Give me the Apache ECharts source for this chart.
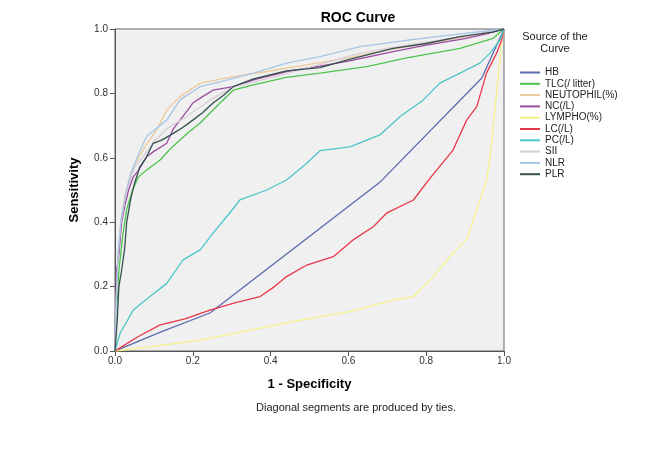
<!DOCTYPE html>
<html><head><meta charset="utf-8">
<script src="https://cdn.jsdelivr.net/npm/echarts@6/dist/echarts.min.js"></script>
<style>html,body{margin:0;padding:0;background:#fff}#c{width:667px;height:461px}</style>
</head><body><div id="c"></div>
<script>
const xTicks = [0, 0.2, 0.4, 0.6, 0.8, 1.0];
const yTicks = [0, 0.2, 0.4, 0.6, 0.8, 1.0];
const seriesNames = ['HB','TLC(/ litter)','NEUTOPHIL(%)','NC(/L)','LYMPHO(%)','LC(/L)','PC(/L)','SII','NLR','PLR'];

const HB = [[0,0],[0.01,0.005],[0.12,0.06],[0.244,0.118],[0.68,0.523],[0.943,0.848],[1,1]];
const TLC = [[0,0],[0.004,0.12],[0.01,0.25],[0.02,0.36],[0.03,0.44],[0.045,0.5],[0.06,0.54],[0.072,0.553],[0.09,0.57],[0.116,0.593],[0.14,0.625],[0.167,0.655],[0.19,0.68],[0.219,0.708],[0.245,0.74],[0.27,0.77],[0.304,0.81],[0.35,0.825],[0.39,0.836],[0.44,0.85],[0.527,0.863],[0.647,0.883],[0.75,0.91],[0.887,0.94],[0.972,0.971],[1,1]];
const NEUTOPHIL = [[0,0],[0.003,0.15],[0.008,0.3],[0.015,0.4],[0.025,0.48],[0.04,0.55],[0.06,0.6],[0.08,0.64],[0.107,0.686],[0.133,0.748],[0.167,0.79],[0.219,0.832],[0.304,0.852],[0.39,0.868],[0.5,0.89],[0.6,0.91],[0.7,0.935],[0.8,0.955],[0.9,0.975],[0.96,0.99],[1,1]];
const NC = [[0,0],[0.002,0.15],[0.004,0.25],[0.01,0.3],[0.017,0.4],[0.025,0.45],[0.035,0.5],[0.047,0.541],[0.06,0.56],[0.081,0.603],[0.1,0.62],[0.133,0.645],[0.15,0.69],[0.167,0.717],[0.185,0.745],[0.2,0.77],[0.225,0.79],[0.252,0.81],[0.304,0.821],[0.356,0.842],[0.441,0.868],[0.527,0.885],[0.6,0.9],[0.715,0.93],[0.8,0.95],[0.9,0.97],[0.955,0.985],[1,1]];
const LYMPHO = [[0,0],[0.09,0.013],[0.219,0.034],[0.347,0.065],[0.476,0.096],[0.604,0.122],[0.715,0.158],[0.767,0.169],[0.818,0.231],[0.861,0.293],[0.904,0.345],[0.921,0.407],[0.938,0.469],[0.955,0.53],[0.964,0.6],[0.973,0.707],[0.985,0.85],[0.994,0.966],[1,1]];
const LC = [[0,0],[0.02,0.015],[0.06,0.045],[0.116,0.081],[0.18,0.1],[0.244,0.127],[0.31,0.15],[0.373,0.169],[0.41,0.2],[0.441,0.231],[0.493,0.267],[0.561,0.293],[0.612,0.345],[0.664,0.386],[0.698,0.428],[0.767,0.469],[0.81,0.537],[0.869,0.624],[0.904,0.717],[0.93,0.759],[0.955,0.863],[0.981,0.925],[0.994,0.966],[1,1]];
const PC = [[0,0],[0.013,0.055],[0.047,0.127],[0.09,0.169],[0.133,0.21],[0.175,0.283],[0.219,0.314],[0.252,0.366],[0.287,0.417],[0.321,0.469],[0.39,0.5],[0.441,0.531],[0.493,0.583],[0.527,0.622],[0.604,0.634],[0.681,0.671],[0.733,0.728],[0.792,0.779],[0.835,0.832],[0.887,0.863],[0.938,0.894],[0.964,0.925],[0.99,0.966],[1,1]];
const SII = [[0,0],[0.003,0.15],[0.008,0.3],[0.015,0.4],[0.03,0.5],[0.05,0.57],[0.07,0.6],[0.1,0.65],[0.133,0.69],[0.184,0.728],[0.244,0.779],[0.304,0.82],[0.39,0.845],[0.527,0.89],[0.63,0.925],[0.75,0.95],[0.887,0.975],[1,1]];
const NLR = [[0,0],[0.003,0.15],[0.008,0.3],[0.015,0.4],[0.025,0.47],[0.04,0.55],[0.06,0.61],[0.081,0.666],[0.133,0.717],[0.167,0.78],[0.219,0.821],[0.27,0.836],[0.356,0.863],[0.441,0.894],[0.527,0.914],[0.63,0.945],[0.75,0.965],[0.887,0.985],[1,1]];
const PLR = [[0,0],[0.006,0.1],[0.01,0.2],[0.017,0.25],[0.025,0.32],[0.03,0.4],[0.04,0.47],[0.05,0.52],[0.064,0.572],[0.08,0.6],[0.098,0.645],[0.12,0.655],[0.15,0.676],[0.175,0.695],[0.2,0.717],[0.225,0.74],[0.252,0.77],[0.28,0.795],[0.304,0.821],[0.356,0.845],[0.441,0.87],[0.527,0.88],[0.6,0.905],[0.715,0.94],[0.8,0.955],[0.887,0.976],[0.97,0.99],[1,1]];

const seriesData = [HB, TLC, NEUTOPHIL, NC, LYMPHO, LC, PC, SII, NLR, PLR];
const colors = ['#5b6bb0','#4cc44c','#eccb9a','#9b4aa0','#f6f08a','#e8394a','#4dc6c8','#d9cdd6','#a8c6e6','#33504f'];

const FONT = 'Liberation Sans, Arial, sans-serif';
const chart = echarts.init(document.getElementById('c'));
chart.setOption({
  animation: false,
  color: colors,
  textStyle: {fontFamily: FONT},
  grid: {left: 115, top: 29, right: 163, bottom: 110, show: true, backgroundColor: '#f0f0f0', borderColor: '#666', borderWidth: 1},
  legend: {
    orient: 'vertical', left: 515, top: 62, icon: 'rect', itemWidth: 20, itemHeight: 2, itemGap: 0.3,
    data: seriesNames,
    textStyle: {fontSize: 10, lineHeight: 11, color: '#222', fontFamily: FONT}
  },
  graphic: [
    {type: 'text', x: 358, y: 11, style: {text: 'ROC Curve', fill: '#000', align: 'center', font: 'bold 14px ' + FONT}},
    {type: 'text', x: 555, y: 31, style: {text: 'Source of the\nCurve', fill: '#222', align: 'center', lineHeight: 12, font: '11px ' + FONT}},
    {type: 'text', x: 356, y: 402, style: {text: 'Diagonal segments are produced by ties.', fill: '#222', align: 'center', font: '11px ' + FONT}}
  ],
  xAxis: {
    type: 'value', min: 0, max: 1, interval: 0.2,
    name: '1 - Specificity', nameLocation: 'middle', nameGap: 27,
    nameTextStyle: {fontSize: 13, fontWeight: 'bold', color: '#000'},
    axisLine: {show: true, lineStyle: {color: '#555'}},
    axisTick: {show: true, length: 5, lineStyle: {color: '#555'}},
    axisLabel: {fontSize: 10, color: '#333', margin: 5, formatter: v => v.toFixed(1)},
    splitLine: {show: false}
  },
  yAxis: {
    type: 'value', min: 0, max: 1, interval: 0.2,
    name: 'Sensitivity', nameLocation: 'middle', nameGap: 34,
    nameTextStyle: {fontSize: 13, fontWeight: 'bold', color: '#000'},
    axisLine: {show: true, lineStyle: {color: '#555'}},
    axisTick: {show: true, length: 5, lineStyle: {color: '#555'}},
    axisLabel: {fontSize: 10, color: '#333', margin: 7, formatter: v => v.toFixed(1)},
    splitLine: {show: false}
  },
  series: seriesNames.map((n, i) => ({
    name: n, type: 'line', data: seriesData[i], showSymbol: false, symbol: 'none',
    lineStyle: {width: 1.3, color: colors[i]}, itemStyle: {color: colors[i]}
  }))
});
</script></body></html>
